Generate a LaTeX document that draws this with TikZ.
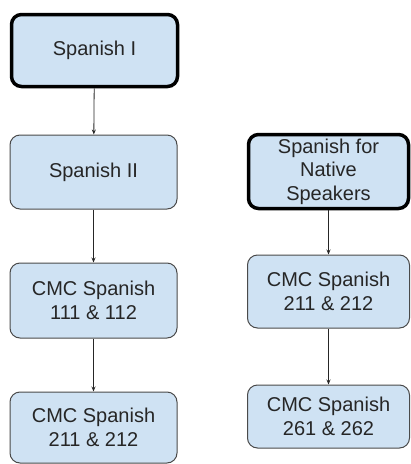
\documentclass[tikz,border=0pt]{standalone}
\usepackage{fontspec}
\setmainfont{Liberation Sans}
\usetikzlibrary{arrows.meta}
\definecolor{boxfill}{HTML}{CFE2F3}
\definecolor{boxline}{HTML}{4A4A4A}
\begin{document}
\begin{tikzpicture}[x=1pt,y=-1pt,
  course/.style={draw=boxline, line width=1pt, fill=boxfill, rounded corners=10pt,
    align=center, font=\fontsize{20}{23.5}\selectfont, text=black!85, inner sep=0pt},
  startcourse/.style={course, draw=black, line width=3.5pt},
  link/.style={draw=black!85, line width=0.8pt, -{Stealth[length=5pt,width=4pt]}}]
\useasboundingbox (0,0) rectangle (411,464);
\node[startcourse, minimum width=166pt, minimum height=72pt] (s1) at (94.5,50.5) {Spanish I};
\node[course, minimum width=167pt, minimum height=74pt] (s2) at (93.5,172) {Spanish II};
\node[course, minimum width=167pt, minimum height=75pt] (c111) at (93.5,300.5) {CMC Spanish\\111 \& 112};
\node[course, minimum width=167pt, minimum height=71pt] (c211l) at (93.5,427.5) {CMC Spanish\\211 \& 212};
\node[startcourse, minimum width=160pt, minimum height=74pt] (sns) at (328.5,171.5) {Spanish for\\Native\\Speakers};
\node[course, minimum width=162pt, minimum height=73pt] (c211r) at (328.5,291.5) {CMC Spanish\\211 \& 212};
\node[course, minimum width=162pt, minimum height=63pt] (c261) at (328.5,416.5) {CMC Spanish\\261 \& 262};
\draw[link] (s1) -- (s2);
\draw[link] (s2) -- (c111);
\draw[link] (c111) -- (c211l);
\draw[link] (sns) -- (c211r);
\draw[link] (c211r) -- (c261);
\end{tikzpicture}
\end{document}
